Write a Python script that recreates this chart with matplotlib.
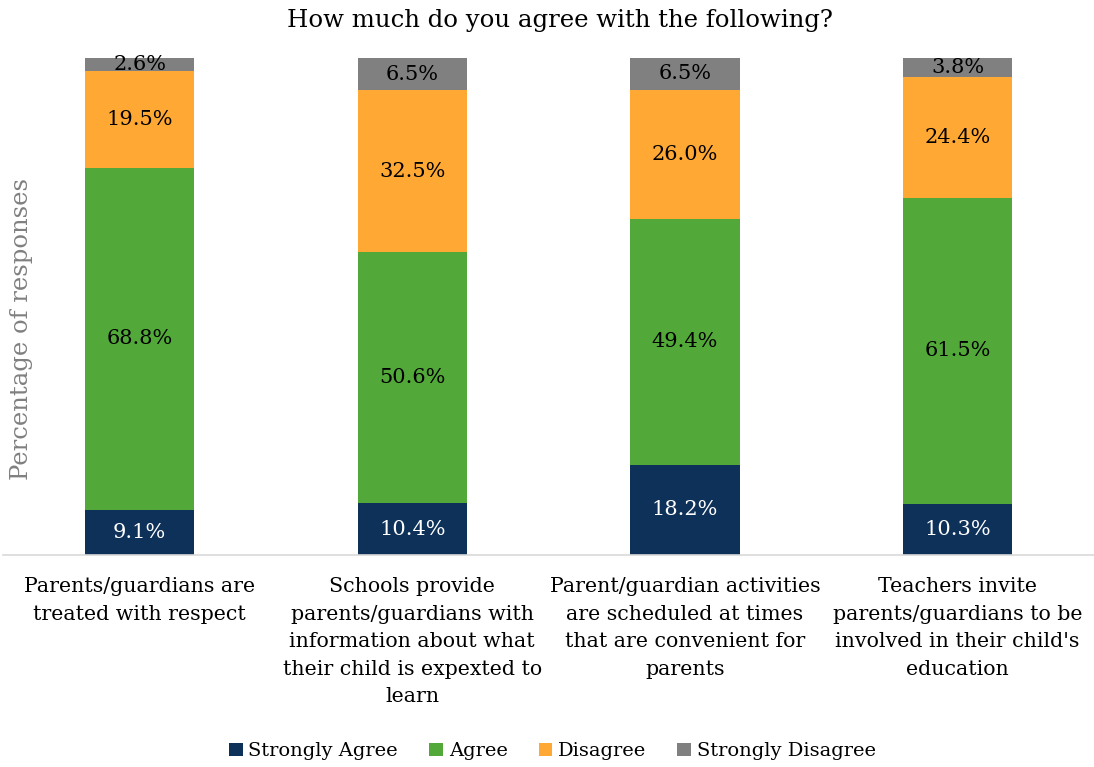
import numpy as np
from matplotlib import pyplot as plt

categories = [
    "Parents/guardians are\ntreated with respect",
    "Schools provide\nparents/guardians with\ninformation about what\ntheir child is expexted to\nlearn",
    "Parent/guardian activities\nare scheduled at times\nthat are convenient for\nparents",
    "Teachers invite\nparents/guardians to be\ninvolved in their child's\neducation",
]
strongly_agree = [9.1, 10.4, 18.2, 10.3]
agree = [68.8, 50.6, 49.4, 61.5]
disagree = [19.5, 32.5, 26.0, 24.4]
strongly_disagree = [2.6, 6.5, 6.5, 3.8]

series = [
    ("Strongly Agree", strongly_agree, "#0E3159", "white"),
    ("Agree", agree, "#52A93A", "black"),
    ("Disagree", disagree, "#FFA833", "black"),
    ("Strongly Disagree", strongly_disagree, "#808080", "black"),
]

plt.rcParams["font.family"] = ["DejaVu Serif"]

fig = plt.figure(figsize=(10.94, 7.67), dpi=100)
ax = fig.add_axes([0.003, 0.2764, 0.997, 0.648])

x = np.arange(len(categories))
bottom = np.zeros(len(categories))
for name, vals, color, tcolor in series:
    vals = np.array(vals)
    bars = ax.bar(x, vals, width=0.4, bottom=bottom, color=color, label=name)
    for xi, b, v in zip(x, bottom, vals):
        ax.text(xi, b + v / 2, f"{v:.1f}%", ha="center", va="center",
                fontsize=15, color=tcolor)
    bottom += vals

ax.set_xlim(-0.5, 3.5)
ax.set_ylim(0, 100)
ax.set_yticks([])
ax.set_xticks(x)
ax.set_xticklabels(categories, fontsize=14.8, linespacing=1.57)
ax.tick_params(axis="x", length=0, pad=16)
for s in ["top", "right", "left"]:
    ax.spines[s].set_visible(False)
ax.spines["bottom"].set_color("#D9D9D9")
ax.spines["bottom"].set_linewidth(1.2)

ax.set_ylabel("Percentage of responses", fontsize=17.5, color="#808080")
ax.yaxis.set_label_coords(0.027, 0.455)

fig.suptitle("How much do you agree with the following?", x=0.512,
             fontsize=17.6, y=0.988)

handles, labels = ax.get_legend_handles_labels()
fig.legend(handles, labels, loc="lower center", bbox_to_anchor=(0.505, -0.014),
           ncol=4, frameon=False, fontsize=14, handlelength=0.7,
           handleheight=0.7, handletextpad=0.3, columnspacing=1.6)

fig.savefig("out.png", dpi=100)
